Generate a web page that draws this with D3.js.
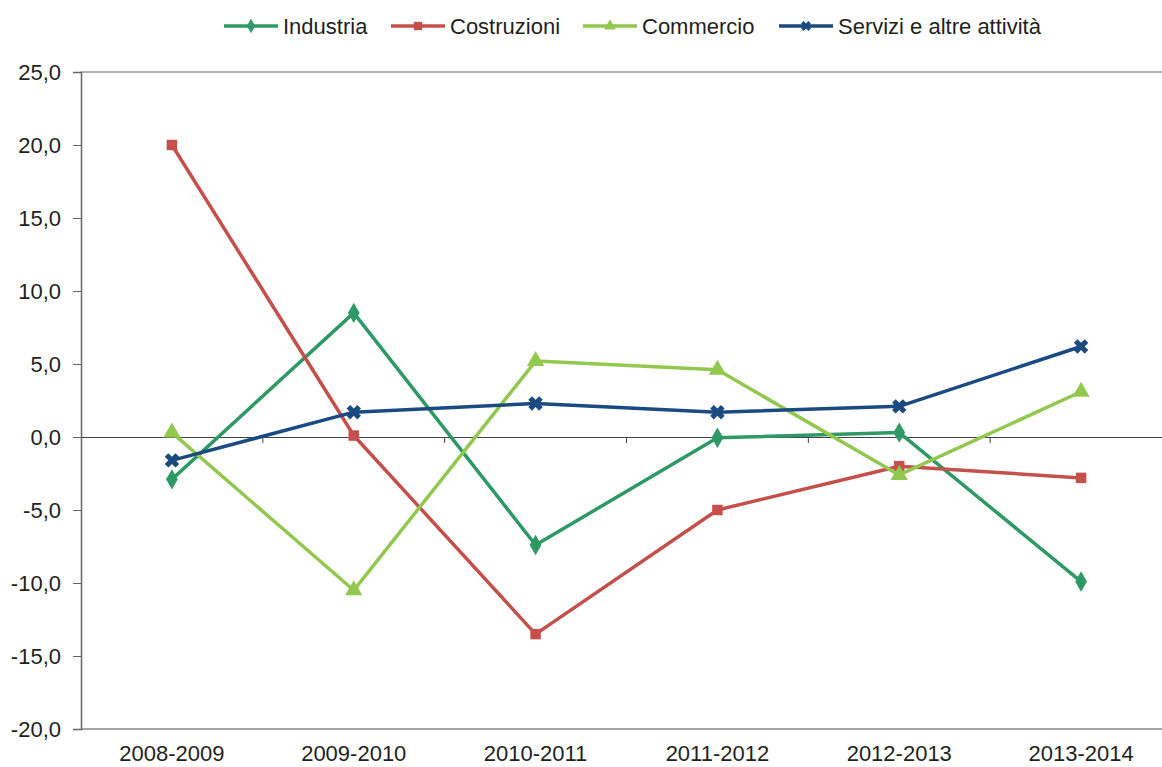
<!DOCTYPE html>
<html><head><meta charset="utf-8">
<script src="https://cdn.jsdelivr.net/npm/d3@7"></script>
<style>body{margin:0;background:#fff}svg{display:block;font-family:"Liberation Sans",Arial,sans-serif}</style>
</head><body><svg id="c" width="1162" height="767"></svg>
<script>
const categories = ["2008-2009","2009-2010","2010-2011","2011-2012","2012-2013","2013-2014"];
const seriesNames = ["Industria","Costruzioni","Commercio","Servizi e altre attività"];
const industria = [-2.9, 8.5, -7.4, -0.05, 0.3, -9.9];
const costruzioni = [20.0, 0.1, -13.5, -5.0, -2.0, -2.8];
const commercio = [0.3, -10.5, 5.2, 4.6, -2.6, 3.1];
const servizi = [-1.6, 1.7, 2.3, 1.7, 2.1, 6.2];
const yTicks = [25,20,15,10,5,0,-5,-10,-15,-20];
const colors = ["#2e9964","#c4504c","#92c84f","#1b4a80"];
const symbols = [d3.symbolDiamond, d3.symbolSquare, d3.symbolTriangle, d3.symbolCross];

const svg = d3.select("#c");
const L = 81, R = 1172, T = 72, B = 729;
const FS = 22;
const x = d3.scaleBand().domain(categories).range([L, R]);
const y = d3.scaleLinear().domain([-20, 25]).range([B, T]);
const fmt = v => d3.format(".1f")(v).replace(".", ",").replace("−","-");

svg.append("line").attr("x1",L).attr("x2",R).attr("y1",T).attr("y2",T).attr("stroke","#999").attr("stroke-width",1.5);
svg.append("line").attr("x1",L).attr("x2",R).attr("y1",B).attr("y2",B).attr("stroke","#888").attr("stroke-width",1.5);

const ya = svg.append("g").attr("transform",`translate(${L},0)`)
  .call(d3.axisLeft(y).tickValues(yTicks).tickFormat(fmt).tickSize(8).tickPadding(12));
ya.select(".domain").attr("stroke","#666").attr("stroke-width",1.5);
ya.selectAll(".tick line").attr("stroke","#666");
ya.selectAll("text").attr("font-size",FS).attr("fill","#231f20").attr("font-family","'Liberation Sans',Arial,sans-serif");

const xa = svg.append("g").attr("transform",`translate(0,${y(0)})`)
  .call(d3.axisBottom(x).tickValues([]).tickSizeOuter(0));
xa.select(".domain").attr("stroke","#444").attr("stroke-width",1);
const bounds = categories.slice(1).map(c => x(c));
xa.selectAll(".bt").data(bounds).enter().append("line").attr("class","bt")
  .attr("x1",d=>d).attr("x2",d=>d).attr("y1",0).attr("y2",6).attr("stroke","#444");

svg.append("g").selectAll("text").data(categories).enter().append("text")
  .attr("x",d=>x(d)+x.bandwidth()/2).attr("y",761).attr("text-anchor","middle")
  .attr("font-size",FS).attr("fill","#231f20").text(d=>d);

const data = [industria, costruzioni, commercio, servizi];
const line = d3.line().x((d,i)=>x(categories[i])+x.bandwidth()/2).y(d=>y(d));
const sizes = [120, 110, 130, 130];
data.forEach((vals, si) => {
  svg.append("path").datum(vals).attr("d", line).attr("fill","none")
    .attr("stroke", colors[si]).attr("stroke-width", 3.5).attr("stroke-linejoin","round");
  svg.append("g").selectAll("path").data(vals).enter().append("path")
    .attr("transform",(d,i)=>`translate(${x(categories[i])+x.bandwidth()/2},${y(d)})` + (si===3?" rotate(45)":""))
    .attr("d", d3.symbol().type(symbols[si]).size(sizes[si]))
    .attr("fill", colors[si]);
});

const legX = [224, 391, 583, 779];
const lg = svg.append("g");
seriesNames.forEach((n, i) => {
  const g = lg.append("g").attr("transform",`translate(${legX[i]},26)`);
  g.append("line").attr("x1",0).attr("x2",54).attr("stroke",colors[i]).attr("stroke-width",3.5);
  g.append("path").attr("transform",`translate(27,0)` + (i===3?" rotate(45)":"")).attr("d", d3.symbol().type(symbols[i]).size(i===1?70:60)).attr("fill",colors[i]);
  g.append("text").attr("x",59).attr("y",8).attr("font-size",FS).attr("fill","#231f20").text(n);
});
</script></body></html>
